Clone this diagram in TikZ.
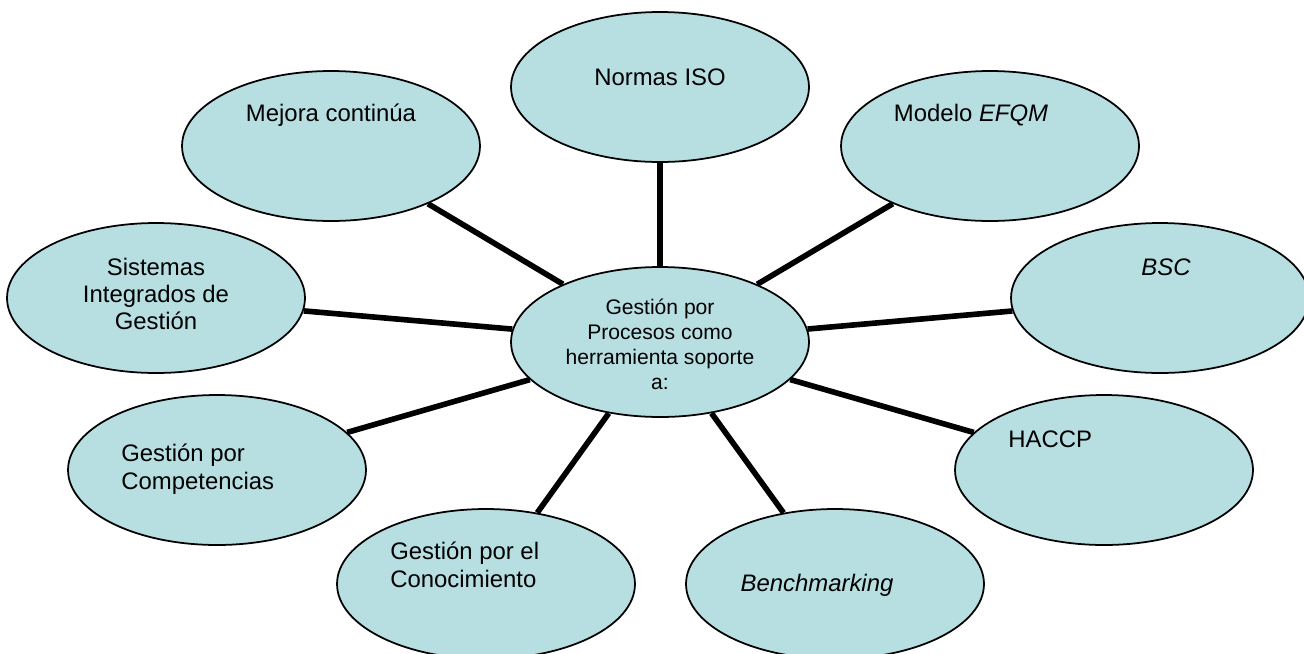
\documentclass[tikz,border=0pt]{standalone}
\usepackage{fontspec}
\setmainfont{Liberation Sans}
\usetikzlibrary{shapes.geometric,backgrounds}
\definecolor{celeste}{RGB}{183,223,226}
\tikzset{
	globo/.style={ellipse, draw=black, line width=1pt, fill=celeste, minimum width=5.96cm, minimum height=3cm, inner sep=0pt},
	enlace/.style={line width=3.2pt},
	texto/.style={inner sep=0pt, font=\fontsize{13.6}{15.6}\selectfont},
	textochico/.style={inner sep=0pt, align=center, font=\fontsize{12}{14.2}\selectfont},
}

\begin{document}
\begin{tikzpicture}[x=0.02cm, y=-0.02cm]
			%%%%% START %%%%%
			\useasboundingbox (0, 0) rectangle (1304, 653);
			
			\node[globo] (centro) at (660, 342) {};
			\node[textochico] (centro-txt) at (660, 344) {Gestión por\\Procesos como\\herramienta soporte\\a:};
			
			\node[globo] (iso) at (660, 87) {};
			\node[texto] (iso-txt) at (660, 77) {Normas ISO};
			
			\node[globo] (mejora) at (331, 146) {};
			\node[texto] (mejora-txt) at (331, 115) {Mejora continúa};
			
			\node[globo] (efqm) at (990, 146) {};
			\node[texto] (efqm-txt) at (971, 115) {Modelo \textit{EFQM}};
			
			\node[globo] (sig) at (156, 298) {};
			\node[texto, align=center] (sig-txt) at (156, 294) {Sistemas\\Integrados de\\Gestión};
			
			\node[globo] (bsc) at (1160, 298) {};
			\node[texto] (bsc-txt) at (1166, 267) {\textit{BSC}};
			
			\node[globo] (compet) at (217, 470) {};
			\node[texto, align=left, anchor=west] (compet-txt) at (121, 469) {Gestión por\\Competencias};
			
			\node[globo] (haccp) at (1104, 470) {};
			\node[texto, anchor=west] (haccp-txt) at (1008, 439) {HACCP};
			
			\node[globo] (conoc) at (486, 584) {};
			\node[texto, align=left, anchor=west] (conoc-txt) at (390, 565) {Gestión por el\\Conocimiento};
			
			\node[globo] (bench) at (835, 584) {};
			\node[texto] (bench-txt) at (817, 585) {\textit{Benchmarking}};
			
			\begin{scope}[on background layer]
			\draw[enlace] (centro) -- (iso);
			\draw[enlace] (centro) -- (mejora);
			\draw[enlace] (centro) -- (efqm);
			\draw[enlace] (centro) -- (sig);
			\draw[enlace] (centro) -- (bsc);
			\draw[enlace] (centro) -- (compet);
			\draw[enlace] (centro) -- (haccp);
			\draw[enlace] (centro) -- (conoc);
			\draw[enlace] (centro) -- (bench);
			\end{scope}
			
			%%%%% END %%%%%
\end{tikzpicture}
\end{document}
